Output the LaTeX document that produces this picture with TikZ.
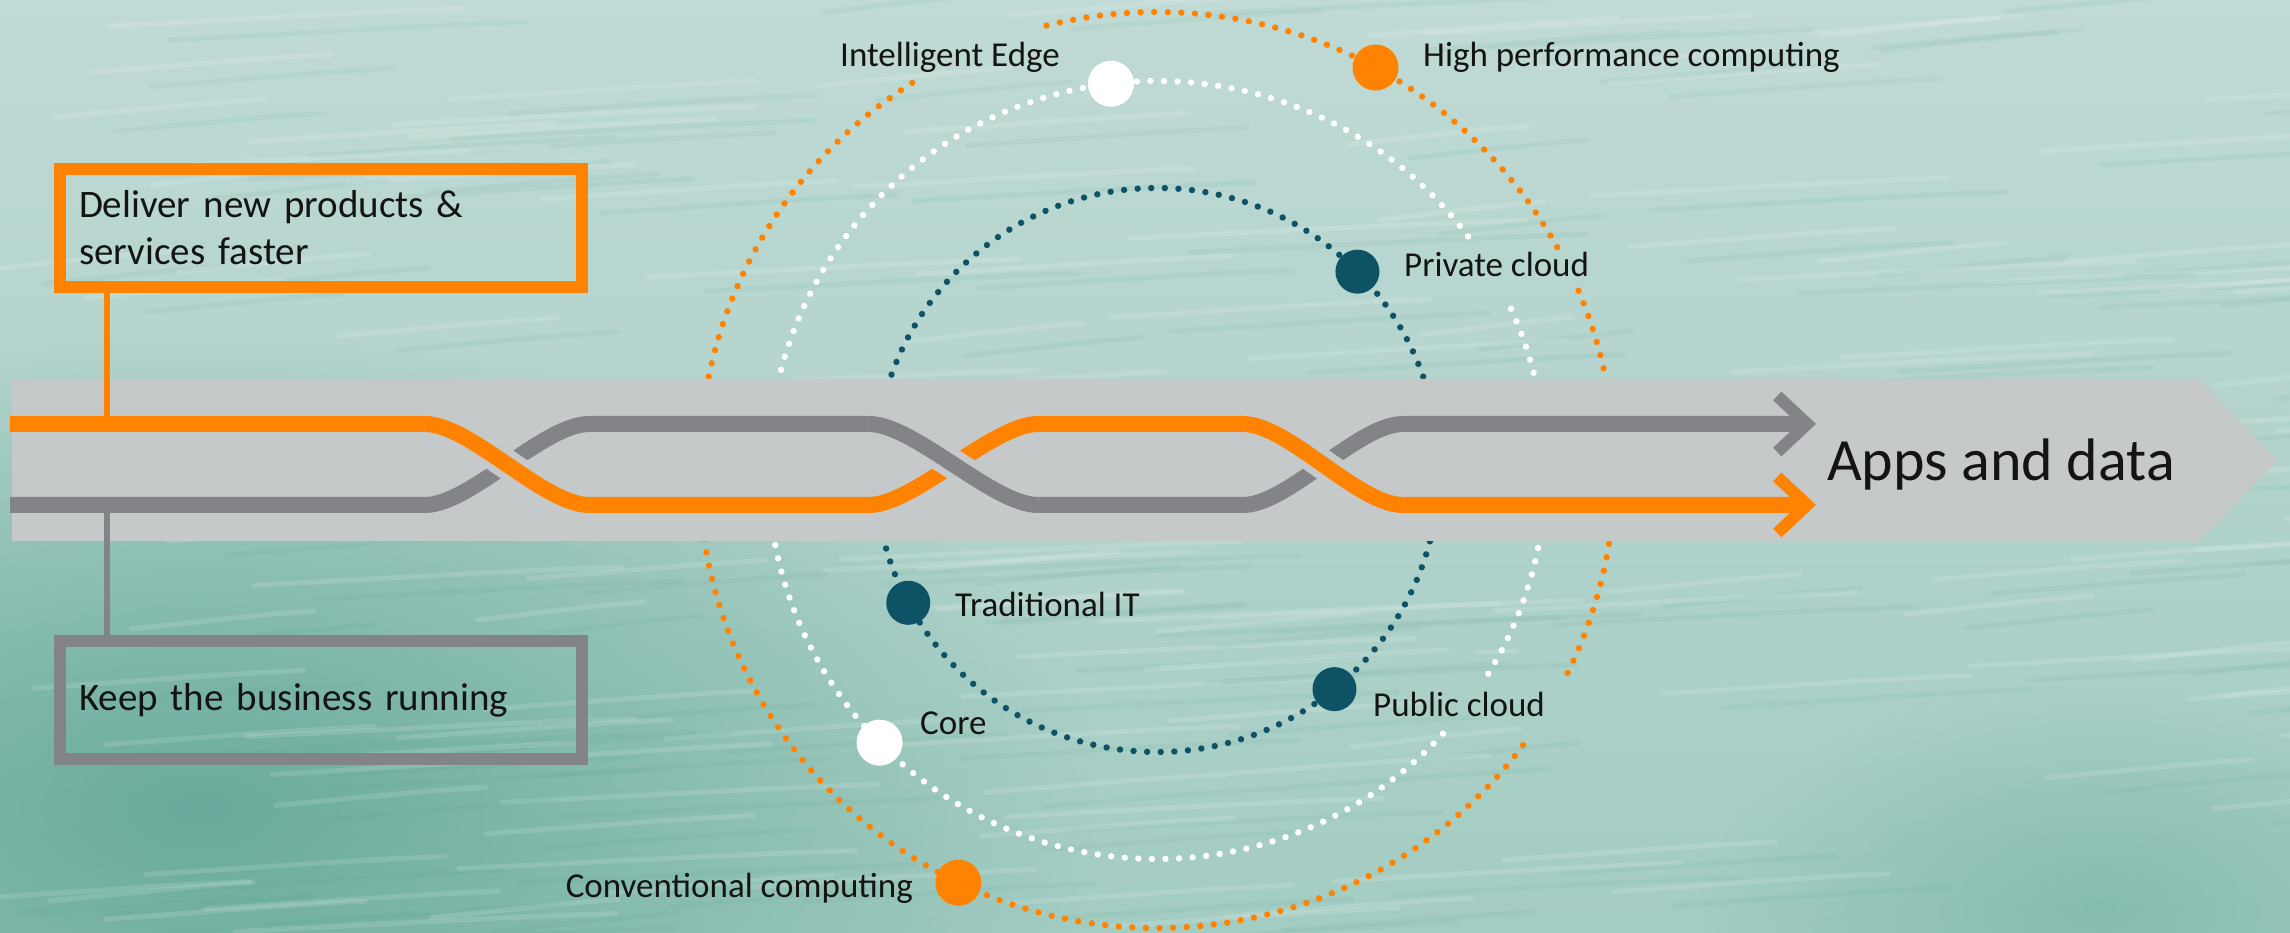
\documentclass[tikz,border=0pt]{standalone}
\usepackage{fontspec}
\setmainfont{Carlito}
\usetikzlibrary{arrows.meta,fadings}

\definecolor{hpeorange}{RGB}{255,131,0}
\definecolor{lanegray}{RGB}{131,132,136}
\definecolor{bandgray}{RGB}{197,201,202}
\definecolor{deepteal}{RGB}{13,82,101}
\definecolor{waterlight}{RGB}{192,218,213}
\definecolor{watermid}{RGB}{163,204,194}
\definecolor{waterdark}{RGB}{78,156,138}
\definecolor{inktext}{RGB}{20,20,20}

\tikzfading[name=softspot,inner color=transparent!0,outer color=transparent!100]

\tikzset{
  lane/.style={line width=16pt},
  tipbarb/.style={-{Straight Barb[length=30pt,width=56pt,line width=12pt]}},
  halo/.style={preaction={draw,bandgray,line width=30pt}},
  orbit/.style={#1,line width=6.4pt,line cap=round,dash pattern=on 0pt off 13.6pt},
  orbdot/.style={circle,fill=#1,inner sep=0pt,minimum size=46pt},
  tag/.style={font=\fontsize{35}{42}\selectfont,text=inktext,inner sep=0pt},
  goalbox/.style={draw=#1,line width=12pt,minimum height=118.5pt,text width=484pt,
    inner xsep=19pt,align=left,font=\fontsize{39}{47}\selectfont,text=inktext},
  feeder/.style={line width=6pt}
}

\begin{document}
\begin{tikzpicture}[x=1pt,y=1pt]
\useasboundingbox (0,0) rectangle (2290,933);

% water
\shade[top color=waterlight,bottom color=watermid] (0,0) rectangle (2290,933);
\fill[waterdark,opacity=0.7,path fading=softspot] (-700,-350) rectangle (1100,600);
\fill[waterdark,opacity=0.35,path fading=softspot] (1700,-200) rectangle (2500,250);
\pgfmathsetseed{42}
\foreach \k in {1,...,140}{
  \pgfmathsetmacro\sx{rnd*2400-100}
  \pgfmathsetmacro\sy{rnd*950}
  \pgfmathsetmacro\sl{150+rnd*250}
  \draw[white,opacity=0.13,line width=5pt,line cap=round] (\sx,\sy) .. controls +(\sl/3,6) and +(-\sl/3,-4) .. +(\sl,18);
  \draw[waterdark,opacity=0.08,line width=5pt,line cap=round] (\sx+60,\sy-14) .. controls +(\sl/3,6) and +(-\sl/3,-4) .. +(\sl,18);
}

% orbits
\coordinate (hub) at (1157,463);
\draw[orbit=hpeorange] ([shift={(29.1:458)}]hub) arc[start angle=29.1,end angle=104.8,radius=458];
\draw[orbit=hpeorange] ([shift={(-26.3:458)}]hub) arc[start angle=-26.3,end angle=23.4,radius=458];
\draw[orbit=hpeorange] ([shift={(122.3:458)}]hub) arc[start angle=122.3,end angle=324.3,radius=458];
\draw[orbit=white] ([shift={(36.9:389)}]hub) arc[start angle=36.9,end angle=318.1,radius=389];
\draw[orbit=white] ([shift={(-31.6:389)}]hub) arc[start angle=-31.6,end angle=26.2,radius=389];
\draw[orbit=deepteal] (hub) circle[radius=282];

% band
\fill[bandgray] (12,392) -- (2199,392) -- (2278,473) -- (2199,554) -- (12,554) -- cycle;
\node[font=\fontsize{60}{72}\selectfont,text=inktext,anchor=base west,inner sep=0pt] (apps) at (1827,452) {Apps and data};

% goals
\node[goalbox=hpeorange] (deliver) at (321,705) {Deliver new products \&\\services faster};
\node[goalbox=lanegray] (keep) at (321,233) {Keep the business running};
\coordinate (tapo) at (107,509);
\coordinate (tapg) at (107,428);
\draw[feeder,hpeorange] (deliver.south -| tapo) -- (tapo);
\draw[feeder,lanegray] (tapg) -- (keep.north -| tapg);

% lanes
\draw[lane,lanegray,tipbarb] (10,428) -- (425,428) .. controls (470,428) and (544,509) .. (589,509) -- (869,509)
  .. controls (914,509) and (993,428) .. (1038,428) -- (1243,428) .. controls (1288,428) and (1358,509) .. (1403,509) -- (1816,509);
\draw[lane,hpeorange,tipbarb] (10,509) -- (425,509) .. controls (470,509) and (544,428) .. (589,428) -- (869,428)
  .. controls (914,428) and (993,509) .. (1038,509) -- (1243,509) .. controls (1288,509) and (1358,428) .. (1403,428) -- (1816,428);
\draw[lane,hpeorange,halo] (425,509) .. controls (470,509) and (544,428) .. (589,428);
\draw[lane,lanegray,halo] (869,509) .. controls (914,509) and (993,428) .. (1038,428);
\draw[lane,hpeorange,halo] (1243,509) .. controls (1288,509) and (1358,428) .. (1403,428);

% stops
\node[orbdot=hpeorange] (hpc) at ([shift={(61.5:458)}]hub) {};
\node[orbdot=hpeorange] (conv) at ([shift={(244.3:458)}]hub) {};
\node[orbdot=white] (edge) at ([shift={(96.8:389)}]hub) {};
\node[orbdot=white] (core) at ([shift={(224.5:389)}]hub) {};
\node[orbdot=deepteal,minimum size=44pt] (priv) at ([shift={(44.7:282)}]hub) {};
\node[orbdot=deepteal,minimum size=44pt] (trad) at ([shift={(208.1:282)}]hub) {};
\node[orbdot=deepteal,minimum size=44pt] (pub) at ([shift={(309:282)}]hub) {};

\node[tag,anchor=base west] (hpc-l) at (1423,866) {High performance computing};
\node[tag,anchor=base east] (edge-l) at (1060,866) {Intelligent Edge};
\node[tag,anchor=base west] (priv-l) at (1404,656) {Private cloud};
\node[tag,anchor=base west] (trad-l) at (955,316) {Traditional IT};
\node[tag,anchor=base west] (pub-l) at (1373,216) {Public cloud};
\node[tag,anchor=base west] (core-l) at (920,198) {Core};
\node[tag,anchor=base east] (conv-l) at (913,35) {Conventional computing};
\end{tikzpicture}
\end{document}
